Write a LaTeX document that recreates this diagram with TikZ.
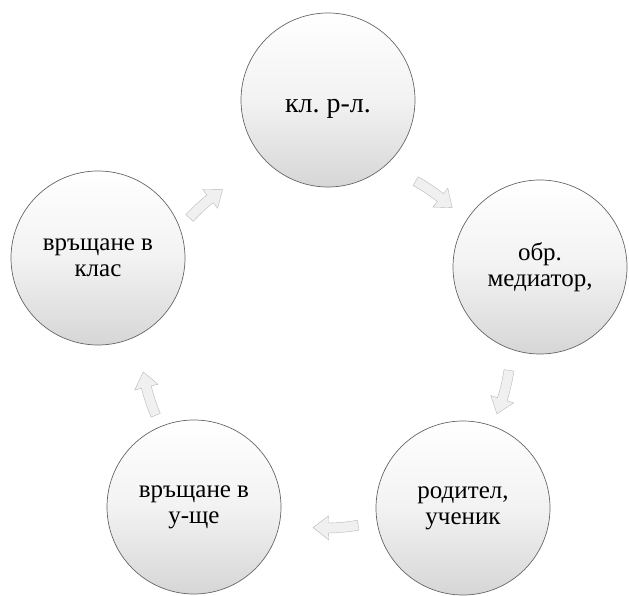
\documentclass[tikz,border=0pt]{standalone}
\usepackage{fontspec}
\setmainfont{Liberation Serif}
\newfontfamily\tnrfont{Liberation Serif}
\usetikzlibrary{calc}
\frenchspacing
\tikzset{
  stage/.style={circle, minimum size=174pt, inner sep=0pt, draw=black!60, line width=0.7pt,
    top color=white, bottom color=black!16, middle color=black!5, shading angle=0,
    align=center, font=\tnrfont\fontsize{25}{26}\selectfont, text=black},
  cycarrow/.style={fill=black!6, draw=black!28, line width=0.4pt}
}
\begin{document}
\begin{tikzpicture}[x=1pt,y=1pt]
\useasboundingbox (0,0) rectangle (629,595);
\coordinate (hub) at (326,252);
\node[stage, font=\tnrfont\fontsize{28}{29}\selectfont, text height=31pt, text depth=6pt] (top) at (328,495) {кл. р-л.};
\node[stage] (right) at (540,328) {обр.\\медиатор,};
\node[stage] (br) at (463,87) {родител,\\ученик};
\node[stage] (bl) at (194,88) {връщане в\\у-ще};
\node[stage] (left) at (98,337) {връщане в\\клас};
% clockwise cycle arrows (start angle / end angle around the hub)
\foreach \s/\e in {137.5/124, 61/47, -8.5/-22.5, -80/-94, 203/189}{
  \pgfmathsetmacro{\h}{\e+4.8}
  \filldraw[cycarrow]
    ($(hub)+(\s:190)$) arc[start angle=\s, end angle=\h, radius=190]
    -- ($(hub)+(\h:197)$) -- ($(hub)+(\e:185)$) -- ($(hub)+(\h:173)$)
    -- ($(hub)+(\h:180)$) arc[start angle=\h, end angle=\s, radius=180] -- cycle;
}
\end{tikzpicture}
\end{document}
